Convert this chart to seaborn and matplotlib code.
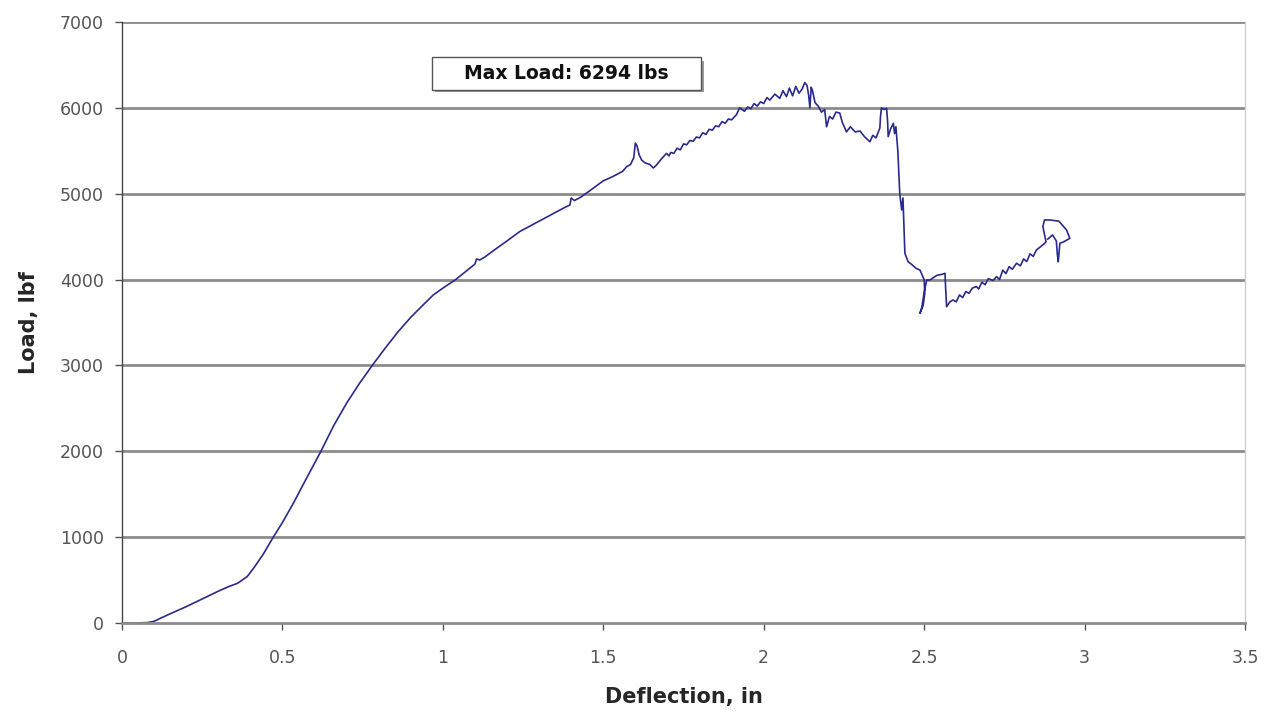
import numpy as np
import pandas as pd
import seaborn as sns
from matplotlib import pyplot as plt
from matplotlib.patches import Rectangle

# Load-deflection trace
deflection = [0.0, 0.04, 0.08, 0.1, 0.14, 0.2, 0.25, 0.3, 0.33, 0.36, 0.39, 0.41, 0.44, 0.47,
              0.5, 0.534, 0.57, 0.6, 0.62, 0.66, 0.7, 0.74, 0.78, 0.82, 0.86, 0.9, 0.94, 0.97,
              1.0, 1.04, 1.07, 1.1, 1.105, 1.115, 1.13, 1.17, 1.2, 1.24, 1.28, 1.32, 1.36,
              1.38, 1.396, 1.40, 1.41, 1.43, 1.46, 1.5, 1.53, 1.56, 1.573, 1.585, 1.595, 1.60,
              1.605, 1.612, 1.62, 1.63, 1.645, 1.656, 1.665, 1.68, 1.697, 1.705, 1.71, 1.72,
              1.73, 1.74, 1.75, 1.76, 1.77, 1.78, 1.79, 1.8, 1.81, 1.82, 1.83, 1.84, 1.85,
              1.86, 1.87, 1.88, 1.89, 1.9, 1.915, 1.925, 1.94, 1.95, 1.96, 1.97, 1.98, 1.99,
              2.0, 2.01, 2.019, 2.035, 2.05, 2.06, 2.071, 2.08, 2.09, 2.1, 2.11, 2.12, 2.128,
              2.135, 2.14, 2.144, 2.148, 2.152, 2.16, 2.17, 2.18, 2.19, 2.196, 2.205, 2.215,
              2.225, 2.237, 2.245, 2.258, 2.27, 2.285, 2.3, 2.315, 2.331, 2.34, 2.35, 2.362,
              2.364, 2.367, 2.375, 2.383, 2.386, 2.388, 2.395, 2.404, 2.408, 2.412, 2.418,
              2.424, 2.43, 2.434, 2.44, 2.45, 2.46, 2.475, 2.487, 2.5, 2.502, 2.497, 2.487,
              2.493, 2.5, 2.508, 2.518, 2.54, 2.555, 2.565, 2.567, 2.57, 2.58, 2.59, 2.6,
              2.61, 2.62, 2.63, 2.64, 2.65, 2.663, 2.67, 2.68, 2.69, 2.7, 2.715, 2.726, 2.735,
              2.745, 2.755, 2.765, 2.775, 2.788, 2.80, 2.81, 2.82, 2.83, 2.84, 2.85, 2.862,
              2.875, 2.88, 2.87, 2.875, 2.892, 2.92, 2.944, 2.954, 2.935, 2.923, 2.918,
              2.915, 2.912, 2.9, 2.885]
load = [0, 0, 5, 20, 90, 190, 280, 370, 420, 462, 540, 637, 800, 990,
        1170, 1394, 1650, 1860, 2000, 2300, 2560, 2790, 3000, 3200, 3390, 3560, 3710, 3820,
        3900, 4000, 4090, 4180, 4240, 4228, 4260, 4370, 4450, 4560, 4640, 4720, 4800,
        4840, 4868, 4950, 4920, 4960, 5040, 5150, 5200, 5260, 5315, 5340, 5420, 5590,
        5560, 5450, 5390, 5360, 5340, 5300, 5330, 5400, 5470, 5440, 5480, 5470,
        5530, 5510, 5580, 5570, 5620, 5610, 5660, 5650, 5710, 5690, 5750, 5740, 5790,
        5780, 5840, 5820, 5870, 5860, 5920, 6000, 5960, 6010, 5990, 6050, 6020, 6070,
        6050, 6120, 6090, 6160, 6110, 6200, 6130, 6230, 6140, 6250, 6170, 6220, 6294,
        6260, 6150, 6000, 6240, 6200, 6060, 6020, 5950, 5980, 5780, 5900, 5870,
        5950, 5940, 5830, 5720, 5780, 5720, 5730, 5660, 5605, 5680, 5650, 5765,
        5900, 6000, 5980, 5995, 5850, 5665, 5750, 5820, 5700, 5780, 5500,
        5005, 4810, 4950, 4306, 4208, 4180, 4130, 4111, 4000, 3840, 3700, 3607,
        3680, 3850, 3995, 3995, 4050, 4060, 4073, 3900, 3684, 3740, 3762, 3740,
        3820, 3790, 3860, 3840, 3900, 3918, 3890, 3970, 3940, 4010, 3990, 4034, 4000,
        4110, 4070, 4150, 4120, 4190, 4160, 4240, 4210, 4300, 4270, 4345, 4380,
        4420, 4440, 4616, 4694, 4694, 4680, 4577, 4480, 4440, 4422, 4208,
        4300, 4450, 4520, 4470]

x_ticks = [0, 0.5, 1, 1.5, 2, 2.5, 3, 3.5]
x_tick_labels = ["0", "0.5", "1", "1.5", "2", "2.5", "3", "3.5"]
y_ticks = [0, 1000, 2000, 3000, 4000, 5000, 6000, 7000]
note = "Max Load: 6294 lbs"

sns.set_style("white")
plt.rcParams['font.family'] = ['DejaVu Sans']

fig = plt.figure(figsize=(12.76, 7.16), dpi=100)
ax = fig.add_axes([0.0956, 0.1299, 0.8801, 0.8394])

for yv in y_ticks[1:]:
    ax.axhline(yv, color='#8c8c8c', lw=2.0, zorder=0)

df = pd.DataFrame({"Deflection": deflection, "Load": load})
sns.lineplot(data=df, x="Deflection", y="Load", sort=False, estimator=None,
             color='#2a2a8c', lw=1.2, ax=ax)

ax.set_xlim(0, 3.5)
ax.set_ylim(0, 7000)
ax.set_xticks(x_ticks)
ax.set_xticklabels(x_tick_labels)
ax.set_yticks(y_ticks)
ax.tick_params(axis='both', direction='out', length=5, width=1, color='#555555',
               labelcolor='#555555', labelsize=12.5, bottom=True, left=True)
ax.tick_params(axis='x', pad=14)
ax.tick_params(axis='y', pad=8)

ax.spines['left'].set_color('#444444')
ax.spines['left'].set_linewidth(1.0)
ax.spines['bottom'].set_color('#8c8c8c')
ax.spines['bottom'].set_linewidth(2.0)
ax.spines['top'].set_visible(False)
ax.spines['right'].set_color('#cccccc')
ax.spines['right'].set_linewidth(1.0)

ax.set_xlabel("Deflection, in", fontsize=15, fontweight='bold', labelpad=14)
ax.set_ylabel("Load, lbf", fontsize=15, fontweight='bold', labelpad=15)

# annotation box with a little shadow like the spreadsheet version
ax.add_patch(Rectangle((0.975, 6180), 0.84, 370, facecolor='#999999', edgecolor='none',
                       zorder=3))
ax.add_patch(Rectangle((0.965, 6208), 0.84, 384, facecolor='white', edgecolor='#555555',
                       lw=1.0, zorder=4))
ax.text(0.965 + 0.42, 6400, note, ha='center', va='center', fontsize=13.5,
        fontweight='bold', color='#111111', zorder=5)

fig.savefig("out.png", dpi=100)
